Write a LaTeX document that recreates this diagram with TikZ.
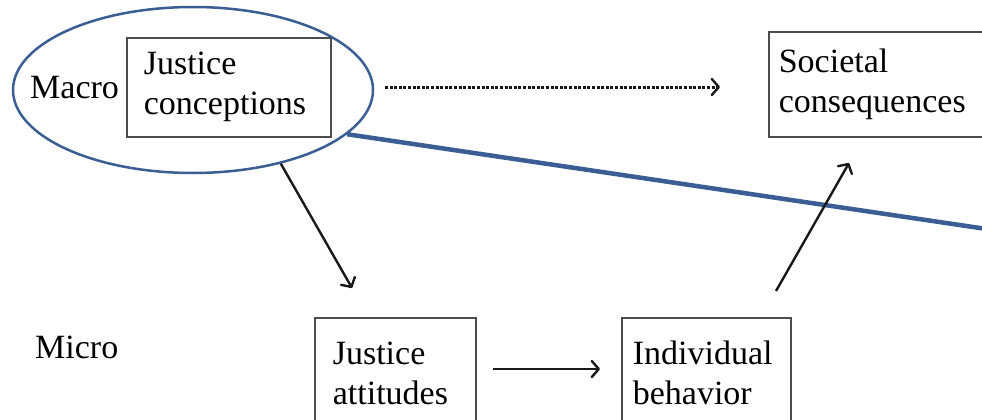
\documentclass[tikz,border=0pt]{standalone}
\usepackage{fontspec}
\setmainfont{Liberation Serif}
\usetikzlibrary{arrows.meta,shapes.geometric}

\definecolor{markblue}{RGB}{58,94,148}
\tikzset{
  every node/.style={font=\fontsize{34}{40}\selectfont},
  box/.style={draw=black!70, line width=1.6pt, anchor=north west, align=left,
    inner ysep=0pt, minimum height=#1},
  level/.style={anchor=base west, inner sep=0pt},
  tip/.style={-{Straight Barb[length=7pt,width=16pt,line width=2.4pt,round]}},
  arr/.style={line width=2.4pt, draw=black!90, tip},
  dotarr/.style={line width=3pt, draw=black!90, dash pattern=on 3pt off 1.6pt, tip},
}

\begin{document}
\begin{tikzpicture}[x=1pt,y=-1pt]
  \useasboundingbox (0,0) rectangle (982,420);

  % macro level
  \node[box=99, inner xsep=17pt, text width=170pt] (jc) at (126,37) {Justice\\conceptions};
  \node[box=105, inner xsep=10pt, text width=240pt] (sc) at (768,31) {Societal\\consequences};

  % micro level
  \node[box=111, inner xsep=18pt, text width=125pt] (ja) at (314,317) {Justice\\attitudes};
  \node[box=111, inner xsep=11pt, text width=147pt] (ib) at (621,317) {Individual\\behavior};

  % level labels
  \node[level] (macro) at (30,99) {Macro};
  \node[level] (micro) at (35,358) {Micro};

  % highlight around the macro-level concept
  \node[draw=markblue, line width=2.5pt, ellipse, inner sep=0pt,
        minimum width=360pt, minimum height=166pt] (macroel) at (193,90) {};
  \coordinate (lineEnd) at (1000,231);
  \draw[draw=markblue, line width=4.5pt] (macroel.-16.6) -- (lineEnd);

  % arrow end points
  \coordinate (dotStart) at (385,87);
  \coordinate (dotEnd) at (720,87);
  \coordinate (jaIn) at (352,288);
  \coordinate (jaOut) at (493,369);
  \coordinate (ibIn) at (600,369);
  \coordinate (ibOut) at (776,291);
  \coordinate (scIn) at (849,163);

  \draw[dotarr] (dotStart) -- (dotEnd);
  \draw[arr] (macroel.-40) -- (jaIn);
  \draw[arr] (jaOut) -- (ibIn);
  \draw[arr] (ibOut) -- (scIn);
\end{tikzpicture}
\end{document}
